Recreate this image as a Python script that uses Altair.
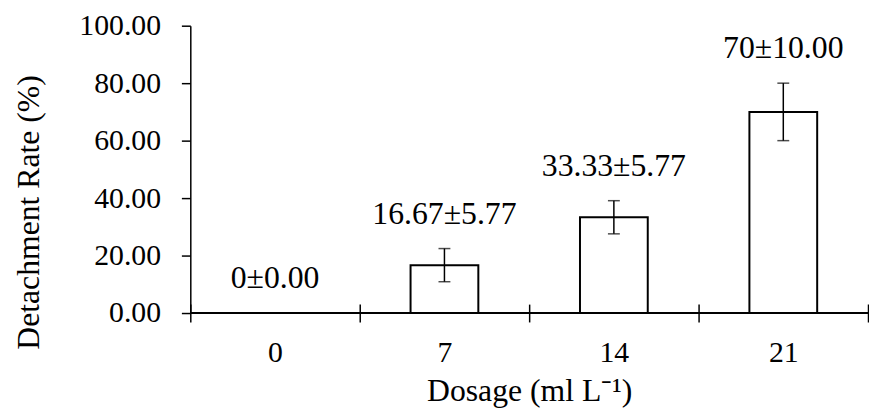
import altair as alt
import pandas as pd

dosage = ["0", "7", "14", "21"]
rate = [0.0, 16.67, 33.33, 70.0]
sd = [0.0, 5.77, 5.77, 10.0]
labels = ["0±0.00", "16.67±5.77", "33.33±5.77", "70±10.00"]
y_ticks = [0, 20, 40, 60, 80, 100]

df = pd.DataFrame({
    "dosage": dosage,
    "rate": rate,
    "lo": [r - s for r, s in zip(rate, sd)],
    "hi": [r + s for r, s in zip(rate, sd)],
    "label": labels,
})

FONT = "Liberation Serif"

x_enc = alt.X(
    "dosage:N",
    sort=dosage,
    scale=alt.Scale(paddingInner=0, paddingOuter=0),
    axis=alt.Axis(
        labelAngle=0,
        tickBand="extent",
        tickSize=18,
        offset=-9,
        domain=False,
        labelPadding=16,
        labelFontSize=30,
        title="Dosage (ml L⁻¹)",
        titleFontSize=32,
        titleBaseline="alphabetic",
        titleY=97,
    ),
)

y_enc = alt.Y(
    "rate:Q",
    scale=alt.Scale(domain=[0, 100]),
    axis=alt.Axis(
        values=y_ticks,
        format=".2f",
        tickSize=9,
        labelPadding=21,
        labelFontSize=30,
        grid=False,
        title="Detachment Rate (%)",
        titleFontSize=32,
        titleAngle=-90,
        titleAlign="center",
        titleBaseline="alphabetic",
        titleX=-153,
        titleY=188,
    ),
)

base = alt.Chart(df)

bars = base.mark_bar(
    width=alt.RelativeBandSize(0.4), fill="white", stroke="black", strokeWidth=2
).encode(x=x_enc, y=y_enc)

domain_rule = base.mark_rule(color="black", strokeWidth=1.5).encode(y=alt.datum(0))

err = base.mark_rule(color="black", strokeWidth=1.5).encode(
    x=alt.X("dosage:N", sort=dosage), y="lo:Q", y2="hi:Q"
)
cap_hi = base.mark_tick(color="black", orient="horizontal", size=12, thickness=1.5).encode(
    x=alt.X("dosage:N", sort=dosage), y="hi:Q"
)
cap_lo = base.mark_tick(color="black", orient="horizontal", size=12, thickness=1.5).encode(
    x=alt.X("dosage:N", sort=dosage), y="lo:Q"
)

text = base.mark_text(
    font=FONT, fontSize=32, color="black", baseline="alphabetic", dy=-25
).encode(x=alt.X("dosage:N", sort=dosage), y="hi:Q", text="label:N")

chart = (
    alt.layer(bars, err, cap_hi, cap_lo, domain_rule, text)
    .properties(
        width=684,
        height=290,
        autosize=alt.AutoSizeParams(type="none"),
        padding={"left": 184, "top": 16, "right": 1, "bottom": 96},
    )
    .configure_view(stroke=None)
    .configure_axis(
        labelFont=FONT,
        titleFont=FONT,
        labelColor="black",
        titleColor="black",
        titleFontWeight="normal",
        domainColor="black",
        domainWidth=1.5,
        tickColor="black",
        tickWidth=1.5,
    )
)

chart.save("out.html", embed_options={"renderer": "svg", "actions": False})
